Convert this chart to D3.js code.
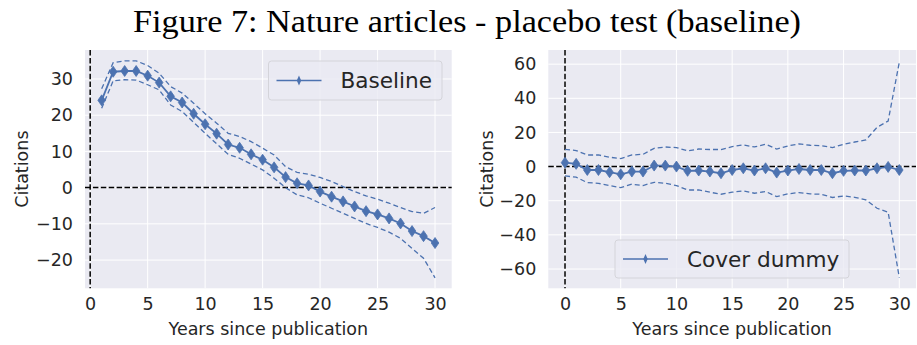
<!DOCTYPE html>
<html>
<head>
<meta charset="utf-8">
<script src="https://cdn.jsdelivr.net/npm/d3@7"></script>
<style>
  body { margin: 0; background: #fff; }
  text { font-family: "DejaVu Sans", sans-serif; fill: #262626; }
</style>
</head>
<body>
<div class="chart"></div>
<script>
//Data
const baseYears = d3.range(1, 31);
const baseMean = [24.1, 32.0, 32.2, 32.2, 30.9, 29.0, 25.2, 23.5, 20.4, 17.5,
  14.9, 11.9, 11.0, 9.2, 7.7, 5.6, 2.9, 1.2, 0.6, -1.1,
  -2.5, -3.8, -5.2, -6.5, -7.4, -8.5, -9.9, -12.0, -13.4, -15.3];
const baseUpper = [27.3, 34.5, 35.0, 35.0, 33.7, 31.6, 27.9, 26.1, 23.3, 20.4,
  17.8, 15.0, 14.1, 12.7, 10.9, 9.0, 5.8, 4.2, 3.7, 2.8,
  1.7, 0.3, -1.1, -2.3, -3.2, -4.3, -5.5, -6.6, -7.1, -5.5];
const baseLower = [21.9, 29.5, 29.8, 29.7, 28.4, 27.0, 22.8, 21.0, 18.0, 15.0,
  12.1, 9.2, 8.1, 6.5, 4.9, 2.6, 0.0, -2.0, -2.8, -4.3,
  -5.7, -7.1, -8.5, -9.9, -11.0, -12.3, -14.0, -16.8, -19.5, -24.9];

const coverYears = d3.range(0, 31);
const coverMean = [2.3, 1.6, -2.0, -2.0, -3.3, -4.5, -2.9, -2.9, 0.6, 0.6,
  0.0, -2.5, -2.3, -2.9, -3.9, -2.0, -1.0, -2.3, -1.0, -3.5,
  -2.3, -1.4, -2.0, -2.0, -3.9, -2.5, -2.3, -2.3, -1.0, -0.2, -2.0];
const coverUpper = [10.1, 9.4, 6.8, 6.8, 5.5, 4.7, 6.8, 7.2, 10.7, 11.5,
  11.1, 9.2, 10.3, 10.0, 10.0, 11.7, 12.7, 11.5, 13.1, 10.3,
  12.1, 13.3, 12.5, 12.3, 11.1, 13.1, 14.4, 15.6, 23.0, 26.7, 61.1];
const coverLower = [-5.5, -6.2, -9.4, -9.8, -11.1, -12.3, -10.3, -11.1, -9.2, -9.8,
  -11.1, -13.7, -13.7, -15.0, -16.2, -15.0, -14.2, -15.6, -14.6, -17.6,
  -16.0, -15.2, -16.0, -16.2, -18.1, -17.2, -18.0, -19.5, -24.4, -26.7, -65.0];

const xTicks = [0, 5, 10, 15, 20, 25, 30];
const baseYTicks = [-20, -10, 0, 10, 20, 30];
const coverYTicks = [-60, -40, -20, 0, 20, 40, 60];

const titleText = "Figure 7: Nature articles - placebo test (baseline)";

//Create svg
const width = 917;
const height = 345;
const svg = d3.select('.chart')
    .append('svg')
    .attr('width', width)
    .attr('height', height);

const blue = "#4c72b0";
const fs = "17.5px";

svg.append("text")
    .attr("x", 133)
    .attr("y", 32)
    .attr("textLength", 668)
    .attr("lengthAdjust", "spacingAndGlyphs")
    .style("font-family", "'Times New Roman', 'Liberation Serif', serif")
    .style("font-size", "31px")
    .style("fill", "#000")
    .text(titleText);

function panel(opt) {
  const x = d3.scaleLinear().domain(opt.xDomain).range([opt.left, opt.right]);
  const y = d3.scaleLinear().domain(opt.yDomain).range([opt.bottom, opt.top]);
  const g = svg.append("g");

  //background
  g.append("rect")
      .attr("x", opt.left).attr("y", opt.top)
      .attr("width", opt.right - opt.left)
      .attr("height", opt.bottom - opt.top)
      .attr("fill", "#eaeaf2");

  //grid
  g.selectAll(".vgrid").data(xTicks).enter().append("line")
      .attr("x1", d => x(d)).attr("x2", d => x(d))
      .attr("y1", opt.top).attr("y2", opt.bottom)
      .attr("stroke", "#fff").attr("stroke-width", 1);
  g.selectAll(".hgrid").data(opt.yTicks).enter().append("line")
      .attr("y1", d => y(d)).attr("y2", d => y(d))
      .attr("x1", opt.left).attr("x2", opt.right)
      .attr("stroke", "#fff").attr("stroke-width", 1);

  //axes (ticks only as labels)
  const xAxis = g.append("g")
      .attr("transform", "translate(0," + opt.bottom + ")")
      .call(d3.axisBottom(x).tickValues(xTicks).tickSize(0).tickPadding(9));
  const yAxis = g.append("g")
      .attr("transform", "translate(" + opt.left + ",0)")
      .call(d3.axisLeft(y).tickValues(opt.yTicks).tickSize(0).tickPadding(12)
        .tickFormat(d => d < 0 ? "\u2212" + Math.abs(d) : d));
  [xAxis, yAxis].forEach(a => {
    a.select(".domain").remove();
    a.selectAll("text").style("font-size", fs).style("fill", "#262626")
        .style("font-family", "'DejaVu Sans', sans-serif");
  });

  //axis labels
  g.append("text")
      .attr("x", (opt.left + opt.right) / 2)
      .attr("y", 335)
      .attr("text-anchor", "middle")
      .style("font-size", fs)
      .text("Years since publication");
  g.append("text")
      .attr("transform", "translate(" + opt.ylabelX + "," + ((opt.top + opt.bottom) / 2) + ") rotate(-90)")
      .attr("text-anchor", "middle")
      .style("font-size", fs)
      .text("Citations");

  //reference lines at zero
  g.append("line")
      .attr("x1", x(0)).attr("x2", x(0))
      .attr("y1", opt.top).attr("y2", opt.bottom)
      .attr("stroke", "#000").attr("stroke-width", 1.5)
      .attr("stroke-dasharray", "5.5,2.4");
  g.append("line")
      .attr("x1", opt.left).attr("x2", opt.right)
      .attr("y1", y(0)).attr("y2", y(0))
      .attr("stroke", "#000").attr("stroke-width", 1.5)
      .attr("stroke-dasharray", "5.5,2.4");

  //confidence bands (dashed)
  const line = vals => d3.line()
      .x((d, i) => x(opt.years[i]))
      .y(d => y(d))(vals);
  [opt.upper, opt.lower].forEach(vals => {
    g.append("path")
        .attr("d", line(vals))
        .attr("fill", "none")
        .attr("stroke", blue)
        .attr("stroke-width", 1.3)
        .attr("stroke-dasharray", "5,3");
  });

  //main line with thin diamond markers
  g.append("path")
      .attr("d", line(opt.mean))
      .attr("fill", "none")
      .attr("stroke", blue)
      .attr("stroke-width", 1.8);
  const diamond = "M0,-5.5 L3.8,0 L0,5.5 L-3.8,0 Z";
  g.selectAll(".pt").data(opt.mean).enter().append("path")
      .attr("d", diamond)
      .attr("transform", (d, i) => "translate(" + x(opt.years[i]) + "," + y(d) + ")")
      .attr("fill", blue)
      .attr("stroke", blue)
      .attr("stroke-width", 0.8);

  //legend
  const L = opt.legend;
  g.append("rect")
      .attr("x", L.x).attr("y", L.y)
      .attr("width", L.w).attr("height", L.h)
      .attr("rx", 3)
      .attr("fill", "#eaeaf2").attr("fill-opacity", 0.8)
      .attr("stroke", "#d4d4da");
  g.append("line")
      .attr("x1", L.x + 8).attr("x2", L.x + 53)
      .attr("y1", L.y + L.h / 2).attr("y2", L.y + L.h / 2)
      .attr("stroke", blue).attr("stroke-width", 1.6);
  g.append("path")
      .attr("d", "M0,-5 L2.2,0 L0,5 L-2.2,0 Z")
      .attr("transform", "translate(" + (L.x + 30.5) + "," + (L.y + L.h / 2) + ")")
      .attr("fill", blue);
  g.append("text")
      .attr("x", L.x + 72)
      .attr("y", L.y + L.h / 2 + 7.5)
      .style("font-size", "21.6px")
      .text(L.label);
}

panel({
  left: 85, right: 451.7, top: 50, bottom: 288.3,
  xDomain: [-0.45, 31.45], yDomain: [-27.8, 38.0],
  yTicks: baseYTicks, years: baseYears,
  mean: baseMean, upper: baseUpper, lower: baseLower,
  ylabelX: 28,
  legend: { x: 268.5, y: 61, w: 173.5, h: 39, label: "Baseline" }
});

panel({
  left: 548.3, right: 916, top: 50, bottom: 288.3,
  xDomain: [-1.5, 31.5], yDomain: [-71.3, 68.3],
  yTicks: coverYTicks, years: coverYears,
  mean: coverMean, upper: coverUpper, lower: coverLower,
  ylabelX: 493,
  legend: { x: 615, y: 240, w: 234, h: 38, label: "Cover dummy" }
});
</script>
</body>
</html>
